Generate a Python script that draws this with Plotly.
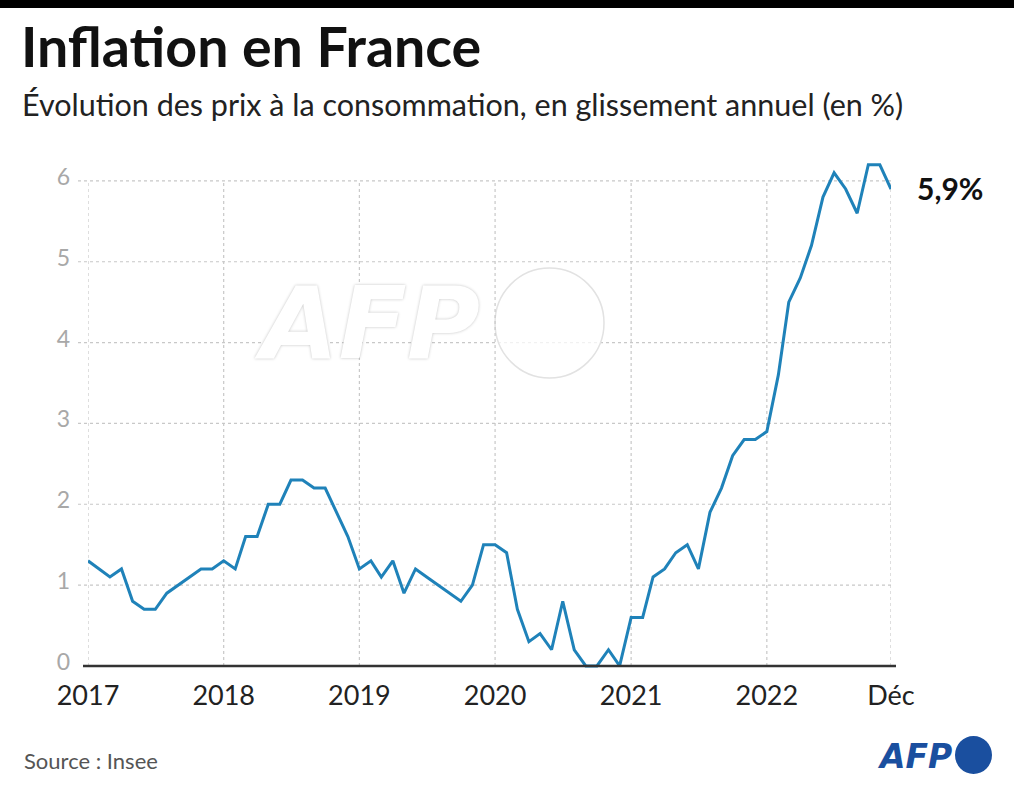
import pandas as pd
import plotly.graph_objects as go

# ---- data (Insee, glissement annuel %) ----
months = pd.date_range("2017-01-01", periods=72, freq="MS")
inflation = [
    1.3, 1.2, 1.1, 1.2, 0.8, 0.7, 0.7, 0.9, 1.0, 1.1, 1.2, 1.2,   # 2017
    1.3, 1.2, 1.6, 1.6, 2.0, 2.0, 2.3, 2.3, 2.2, 2.2, 1.9, 1.6,   # 2018
    1.2, 1.3, 1.1, 1.3, 0.9, 1.2, 1.1, 1.0, 0.9, 0.8, 1.0, 1.5,   # 2019
    1.5, 1.4, 0.7, 0.3, 0.4, 0.2, 0.8, 0.2, 0.0, 0.0, 0.2, 0.0,   # 2020
    0.6, 0.6, 1.1, 1.2, 1.4, 1.5, 1.2, 1.9, 2.2, 2.6, 2.8, 2.8,   # 2021
    2.9, 3.6, 4.5, 4.8, 5.2, 5.8, 6.1, 5.9, 5.6, 6.2, 6.2, 5.9,   # 2022
]
x_tickvals = ["2017-01-01", "2018-01-01", "2019-01-01", "2020-01-01",
              "2021-01-01", "2022-01-01", "2022-12-01"]
x_ticktext = ["2017", "2018", "2019", "2020", "2021", "2022", "Déc"]
y_tickvals = [0, 1, 2, 3, 4, 5, 6]
last_label = "5,9%"

# ---- geometry ----
W, H = 1014, 786
ML, MR, MT, MB = 88, 123, 157, 112
PXU = (666 - 181) / 6.0
YMIN = -0.1
YMAX = YMIN + (H - MT - MB) / PXU
PW, PH = W - ML - MR, H - MT - MB

def xp(px):
    return (px - ML) / PW

def yp(py):
    return (H - MB - py) / PH

FONT = "Lato, 'Noto Sans', sans-serif"
LOGO_FONT = "'DejaVu Sans', sans-serif"
LINE = "#1f82b9"
GRID = "#c8c8c8"
AFP_BLUE = "#1a4f9f"

fig = go.Figure()

fig.add_trace(go.Scatter(
    x=months, y=inflation, mode="lines",
    line=dict(color=LINE, width=3), hoverinfo="x+y", showlegend=False,
))

shapes = []
# top black band
shapes.append(dict(type="rect", xref="paper", yref="paper",
                   x0=xp(0), x1=xp(W), y0=yp(8), y1=yp(0),
                   fillcolor="black", line=dict(width=0), layer="above"))
# horizontal dotted gridlines
for v in y_tickvals[1:]:
    shapes.append(dict(type="line", xref="paper", yref="y",
                       x0=xp(78), x1=1.0, y0=v, y1=v,
                       line=dict(color=GRID, width=1.2, dash="dot"), layer="below"))
# vertical dotted gridlines
for t in x_tickvals:
    shapes.append(dict(type="line", xref="x", yref="y",
                       x0=t, x1=t, y0=0, y1=6,
                       line=dict(color=GRID, width=1.2, dash="dot"), layer="below"))
# watermark circle
shapes.append(dict(type="circle", xref="paper", yref="paper",
                   x0=xp(495), x1=xp(604), y0=yp(378), y1=yp(268),
                   fillcolor="rgba(255,255,255,0.75)",
                   line=dict(color="#e2e2e2", width=1.5), layer="below"))
# zero axis line
shapes.append(dict(type="line", xref="paper", yref="y",
                   x0=xp(83), x1=xp(896), y0=0, y1=0,
                   line=dict(color="#333333", width=2.5), layer="above"))
# AFP logo circle
shapes.append(dict(type="circle", xref="paper", yref="paper",
                   x0=xp(955), x1=xp(992), y0=yp(774), y1=yp(736),
                   fillcolor=AFP_BLUE, line=dict(width=0), layer="above"))

annotations = [
    dict(text="Inflation en France", x=xp(19), y=yp(46), xref="paper", yref="paper",
         xanchor="left", yanchor="middle", showarrow=False,
         font=dict(family=FONT, size=55.5, color="#111111", weight="bold")),
    dict(text="Évolution des prix à la consommation, en glissement annuel (en %)",
         x=xp(20), y=yp(104), xref="paper", yref="paper",
         xanchor="left", yanchor="middle", showarrow=False,
         font=dict(family=FONT, size=30.5, color="#222222")),
    dict(text=last_label, x=months[-1], y=inflation[-1], xref="x", yref="y",
         xanchor="left", yanchor="middle", xshift=24, yshift=1, showarrow=False,
         font=dict(family=FONT, size=30, color="#111111", weight="bold")),
    dict(text="Source : Insee", x=xp(22), y=yp(760), xref="paper", yref="paper",
         xanchor="left", yanchor="middle", showarrow=False,
         font=dict(family=FONT, size=22, color="#555555")),
    dict(text="AFP", x=xp(954), y=yp(756), xref="paper", yref="paper",
         xanchor="right", yanchor="middle", showarrow=False,
         font=dict(family=LOGO_FONT, size=33, color=AFP_BLUE, weight="bold", style="italic")),
    dict(text="AFP", x=xp(482), y=yp(323), xref="paper", yref="paper",
         xanchor="right", yanchor="middle", showarrow=False,
         font=dict(family=LOGO_FONT, size=100, color="white", weight="bold", style="italic",
                   shadow="0px 0px 3px rgba(0,0,0,0.25)")),
]

fig.update_layout(
    width=W, height=H,
    margin=dict(l=ML, r=MR, t=MT, b=MB, pad=0),
    paper_bgcolor="white", plot_bgcolor="rgba(0,0,0,0)",
    shapes=shapes, annotations=annotations,
    xaxis=dict(type="date", range=["2017-01-01", "2022-12-01"],
               tickvals=x_tickvals, ticktext=x_ticktext,
               showgrid=False, zeroline=False, showline=False, ticks="",
               ticklabelstandoff=3,
               tickfont=dict(family=FONT, size=27, color="#222222")),
    yaxis=dict(range=[YMIN, YMAX], tickvals=y_tickvals,
               showgrid=False, zeroline=False, showline=False, ticks="",
               ticklabelstandoff=17, ticklabelshift=-4,
               tickfont=dict(family=FONT, size=23, color="#a8a8a8")),
    hovermode="closest",
)

fig.write_html("out.html",
               config={"displayModeBar": False},
               post_script="document.body.style.margin='0px';document.body.style.overflow='hidden';")
